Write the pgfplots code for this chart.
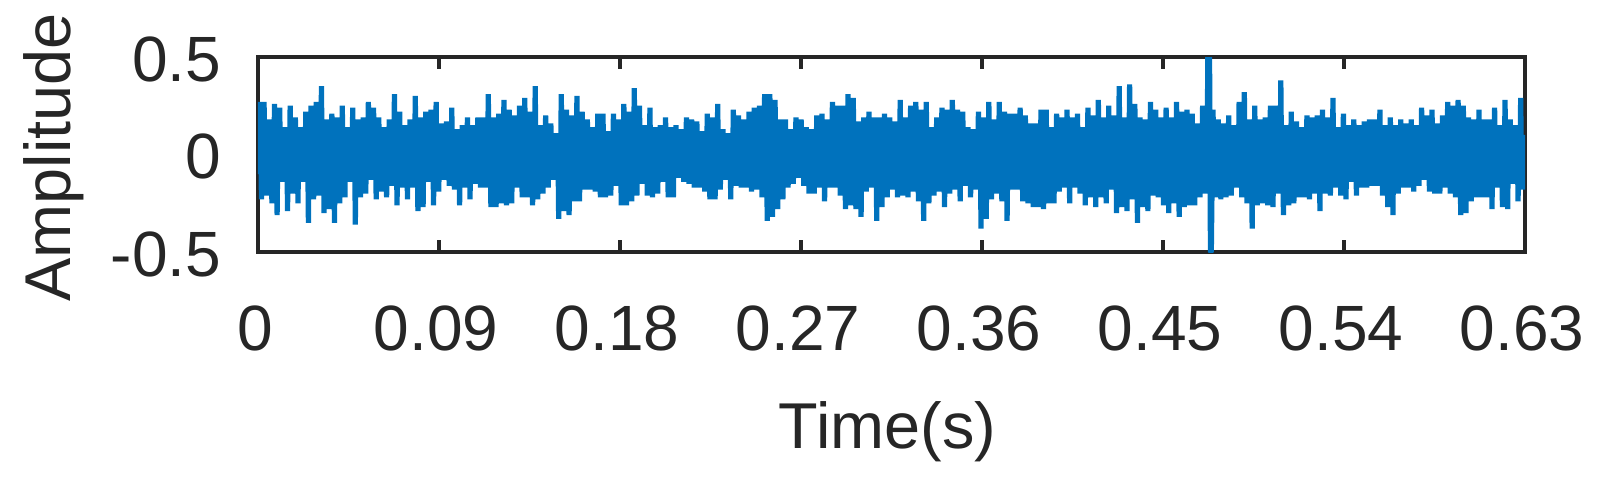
\documentclass[border=0pt]{standalone}
\usepackage{fontspec}
\setmainfont{Liberation Sans}
\usepackage{pgfplots}
\pgfplotsset{compat=1.18}
\definecolor{axisgray}{RGB}{38,38,38}
\definecolor{matblue}{RGB}{0,114,189}
\begin{document}
\begin{tikzpicture}
\begin{axis}[
  scale only axis,
  width=316.75pt, height=48.75pt,
  xmin=0, xmax=0.63, ymin=-0.5, ymax=0.5,
  xtick={0,0.09,0.18,0.27,0.36,0.45,0.54,0.63},
  xticklabels={0,0.09,0.18,0.27,0.36,0.45,0.54,0.63},
  ytick={-0.5,0,0.5},
  yticklabels={-0.5,0,0.5},
  tick align=inside,
  tick pos=both,
  major tick length=3pt,
  axis line style={axisgray, line width=1pt},
  every tick/.style={axisgray, line width=1pt},
  tick label style={font=\fontsize{16}{19}\selectfont, text=axisgray, inner sep=0pt},
  xticklabel style={anchor=north, yshift=-13.25pt, xshift=-0.75pt},
  yticklabel style={anchor=east, xshift=-9pt, yshift=-0.5pt},
  every axis x label/.style={at={(axis description cs:0.4968,0)}, anchor=base,
    yshift=-49pt, inner sep=0pt, text=axisgray, font=\fontsize{16.2}{19}\selectfont},
  every axis y label/.style={at={(axis description cs:-0.14838,0.4846)}, anchor=base,
    rotate=90, inner sep=0pt, text=axisgray, font=\fontsize{16.2}{19}\selectfont},
  xlabel={Time(s)},
  ylabel={Amplitude},
]
% one row per sample, spike top / core / spike bottom
\addplot[matblue, line width=1.3pt, line join=bevel]
  table[header=false, row sep=\\, x expr=\coordindex*0.00043210, y index=0] {
0\\
0.27\\-0.10\\0.11\\-0.23\\0.10\\-0.09\\
0.27\\-0.11\\0.09\\-0.21\\0.11\\-0.10\\
0.18\\-0.09\\0.10\\-0.25\\0.09\\-0.11\\
0.26\\-0.10\\0.11\\-0.31\\0.10\\-0.09\\
0.24\\-0.11\\0.09\\-0.14\\0.11\\-0.10\\
0.14\\-0.09\\0.10\\-0.29\\0.09\\-0.11\\
0.25\\-0.10\\0.11\\-0.20\\0.10\\-0.09\\
0.19\\-0.11\\0.09\\-0.25\\0.11\\-0.10\\
0.14\\-0.09\\0.10\\-0.14\\0.09\\-0.11\\
0.22\\-0.10\\0.11\\-0.35\\0.10\\-0.09\\
0.25\\-0.11\\0.09\\-0.23\\0.11\\-0.10\\
0.27\\-0.09\\0.10\\-0.21\\0.09\\-0.11\\
0.35\\-0.10\\0.11\\-0.30\\0.10\\-0.09\\
0.18\\-0.11\\0.09\\-0.28\\0.11\\-0.10\\
0.21\\-0.09\\0.10\\-0.35\\0.09\\-0.11\\
0.19\\-0.10\\0.11\\-0.25\\0.10\\-0.09\\
0.25\\-0.11\\0.09\\-0.22\\0.11\\-0.10\\
0.14\\-0.09\\0.10\\-0.14\\0.09\\-0.11\\
0.24\\-0.10\\0.11\\-0.36\\0.10\\-0.09\\
0.18\\-0.11\\0.09\\-0.22\\0.11\\-0.10\\
0.19\\-0.09\\0.10\\-0.20\\0.09\\-0.11\\
0.27\\-0.10\\0.11\\-0.13\\0.10\\-0.09\\
0.24\\-0.11\\0.09\\-0.23\\0.11\\-0.10\\
0.19\\-0.09\\0.10\\-0.19\\0.09\\-0.11\\
0.14\\-0.10\\0.11\\-0.22\\0.10\\-0.09\\
0.18\\-0.11\\0.09\\-0.16\\0.11\\-0.10\\
0.31\\-0.09\\0.10\\-0.26\\0.09\\-0.11\\
0.22\\-0.10\\0.11\\-0.17\\0.10\\-0.09\\
0.15\\-0.11\\0.09\\-0.23\\0.11\\-0.10\\
0.18\\-0.09\\0.10\\-0.17\\0.09\\-0.11\\
0.30\\-0.10\\0.11\\-0.29\\0.10\\-0.09\\
0.19\\-0.11\\0.09\\-0.27\\0.11\\-0.10\\
0.22\\-0.09\\0.10\\-0.14\\0.09\\-0.11\\
0.23\\-0.10\\0.11\\-0.26\\0.10\\-0.09\\
0.27\\-0.11\\0.09\\-0.19\\0.11\\-0.10\\
0.16\\-0.09\\0.10\\-0.13\\0.09\\-0.11\\
0.17\\-0.10\\0.11\\-0.16\\0.10\\-0.09\\
0.24\\-0.11\\0.09\\-0.18\\0.11\\-0.10\\
0.13\\-0.09\\0.10\\-0.26\\0.09\\-0.11\\
0.15\\-0.10\\0.11\\-0.17\\0.10\\-0.09\\
0.19\\-0.11\\0.09\\-0.23\\0.11\\-0.10\\
0.15\\-0.09\\0.10\\-0.15\\0.09\\-0.11\\
0.19\\-0.10\\0.11\\-0.17\\0.10\\-0.09\\
0.19\\-0.11\\0.09\\-0.17\\0.11\\-0.10\\
0.31\\-0.09\\0.10\\-0.27\\0.09\\-0.11\\
0.19\\-0.10\\0.11\\-0.27\\0.10\\-0.09\\
0.21\\-0.11\\0.09\\-0.25\\0.11\\-0.10\\
0.28\\-0.09\\0.10\\-0.26\\0.09\\-0.11\\
0.23\\-0.10\\0.11\\-0.25\\0.10\\-0.09\\
0.20\\-0.11\\0.09\\-0.17\\0.11\\-0.10\\
0.25\\-0.09\\0.10\\-0.22\\0.09\\-0.11\\
0.29\\-0.10\\0.11\\-0.22\\0.10\\-0.09\\
0.22\\-0.11\\0.09\\-0.26\\0.11\\-0.10\\
0.35\\-0.09\\0.10\\-0.23\\0.09\\-0.11\\
0.15\\-0.10\\0.11\\-0.20\\0.10\\-0.09\\
0.20\\-0.11\\0.09\\-0.17\\0.11\\-0.10\\
0.16\\-0.09\\0.10\\-0.13\\0.09\\-0.11\\
0.11\\-0.10\\0.11\\-0.33\\0.10\\-0.09\\
0.31\\-0.11\\0.09\\-0.29\\0.11\\-0.10\\
0.23\\-0.09\\0.10\\-0.31\\0.09\\-0.11\\
0.20\\-0.10\\0.11\\-0.24\\0.10\\-0.09\\
0.30\\-0.11\\0.09\\-0.24\\0.11\\-0.10\\
0.22\\-0.09\\0.10\\-0.18\\0.09\\-0.11\\
0.18\\-0.10\\0.11\\-0.18\\0.10\\-0.09\\
0.14\\-0.11\\0.09\\-0.19\\0.11\\-0.10\\
0.21\\-0.09\\0.10\\-0.22\\0.09\\-0.11\\
0.21\\-0.10\\0.11\\-0.22\\0.10\\-0.09\\
0.12\\-0.11\\0.09\\-0.21\\0.11\\-0.10\\
0.21\\-0.09\\0.10\\-0.16\\0.09\\-0.11\\
0.18\\-0.10\\0.11\\-0.26\\0.10\\-0.09\\
0.26\\-0.11\\0.09\\-0.26\\0.11\\-0.10\\
0.22\\-0.09\\0.10\\-0.24\\0.09\\-0.11\\
0.34\\-0.10\\0.11\\-0.21\\0.10\\-0.09\\
0.25\\-0.11\\0.09\\-0.15\\0.11\\-0.10\\
0.15\\-0.09\\0.10\\-0.21\\0.09\\-0.11\\
0.24\\-0.10\\0.11\\-0.22\\0.10\\-0.09\\
0.14\\-0.11\\0.09\\-0.20\\0.11\\-0.10\\
0.15\\-0.09\\0.10\\-0.14\\0.09\\-0.11\\
0.19\\-0.10\\0.11\\-0.22\\0.10\\-0.09\\
0.14\\-0.11\\0.09\\-0.22\\0.11\\-0.10\\
0.15\\-0.09\\0.10\\-0.12\\0.09\\-0.11\\
0.13\\-0.10\\0.11\\-0.14\\0.10\\-0.09\\
0.19\\-0.11\\0.09\\-0.15\\0.11\\-0.10\\
0.18\\-0.09\\0.10\\-0.17\\0.09\\-0.11\\
0.17\\-0.10\\0.11\\-0.17\\0.10\\-0.09\\
0.12\\-0.11\\0.09\\-0.19\\0.11\\-0.10\\
0.21\\-0.09\\0.10\\-0.23\\0.09\\-0.11\\
0.19\\-0.10\\0.11\\-0.23\\0.10\\-0.09\\
0.26\\-0.11\\0.09\\-0.18\\0.11\\-0.10\\
0.13\\-0.09\\0.10\\-0.13\\0.09\\-0.11\\
0.11\\-0.10\\0.11\\-0.23\\0.10\\-0.09\\
0.23\\-0.11\\0.09\\-0.16\\0.11\\-0.10\\
0.20\\-0.09\\0.10\\-0.17\\0.09\\-0.11\\
0.18\\-0.10\\0.11\\-0.17\\0.10\\-0.09\\
0.22\\-0.11\\0.09\\-0.19\\0.11\\-0.10\\
0.24\\-0.09\\0.10\\-0.18\\0.09\\-0.11\\
0.25\\-0.10\\0.11\\-0.22\\0.10\\-0.09\\
0.31\\-0.11\\0.09\\-0.34\\0.11\\-0.10\\
0.31\\-0.09\\0.10\\-0.32\\0.09\\-0.11\\
0.28\\-0.10\\0.11\\-0.28\\0.10\\-0.09\\
0.18\\-0.11\\0.09\\-0.23\\0.11\\-0.10\\
0.18\\-0.09\\0.10\\-0.17\\0.09\\-0.11\\
0.13\\-0.10\\0.11\\-0.15\\0.10\\-0.09\\
0.19\\-0.11\\0.09\\-0.12\\0.11\\-0.10\\
0.18\\-0.09\\0.10\\-0.16\\0.09\\-0.11\\
0.14\\-0.10\\0.11\\-0.20\\0.10\\-0.09\\
0.13\\-0.11\\0.09\\-0.20\\0.11\\-0.10\\
0.20\\-0.09\\0.10\\-0.17\\0.09\\-0.11\\
0.21\\-0.10\\0.11\\-0.24\\0.10\\-0.09\\
0.18\\-0.11\\0.09\\-0.17\\0.11\\-0.10\\
0.27\\-0.09\\0.10\\-0.17\\0.09\\-0.11\\
0.25\\-0.10\\0.11\\-0.21\\0.10\\-0.09\\
0.25\\-0.11\\0.09\\-0.28\\0.11\\-0.10\\
0.31\\-0.09\\0.10\\-0.26\\0.09\\-0.11\\
0.29\\-0.10\\0.11\\-0.28\\0.10\\-0.09\\
0.17\\-0.11\\0.09\\-0.32\\0.11\\-0.10\\
0.19\\-0.09\\0.10\\-0.19\\0.09\\-0.11\\
0.22\\-0.10\\0.11\\-0.17\\0.10\\-0.09\\
0.19\\-0.11\\0.09\\-0.34\\0.11\\-0.10\\
0.19\\-0.09\\0.10\\-0.27\\0.09\\-0.11\\
0.21\\-0.10\\0.11\\-0.22\\0.10\\-0.09\\
0.19\\-0.11\\0.09\\-0.18\\0.11\\-0.10\\
0.17\\-0.09\\0.10\\-0.22\\0.09\\-0.11\\
0.28\\-0.10\\0.11\\-0.21\\0.10\\-0.09\\
0.19\\-0.11\\0.09\\-0.22\\0.11\\-0.10\\
0.25\\-0.09\\0.10\\-0.19\\0.09\\-0.11\\
0.27\\-0.10\\0.11\\-0.24\\0.10\\-0.09\\
0.23\\-0.11\\0.09\\-0.34\\0.11\\-0.10\\
0.27\\-0.09\\0.10\\-0.25\\0.09\\-0.11\\
0.14\\-0.10\\0.11\\-0.21\\0.10\\-0.09\\
0.19\\-0.11\\0.09\\-0.19\\0.11\\-0.10\\
0.24\\-0.09\\0.10\\-0.27\\0.09\\-0.11\\
0.23\\-0.10\\0.11\\-0.20\\0.10\\-0.09\\
0.28\\-0.11\\0.09\\-0.18\\0.11\\-0.10\\
0.23\\-0.09\\0.10\\-0.24\\0.09\\-0.11\\
0.22\\-0.10\\0.11\\-0.16\\0.10\\-0.09\\
0.14\\-0.11\\0.09\\-0.22\\0.11\\-0.10\\
0.13\\-0.09\\0.10\\-0.18\\0.09\\-0.11\\
0.22\\-0.10\\0.11\\-0.38\\0.10\\-0.09\\
0.19\\-0.11\\0.09\\-0.33\\0.11\\-0.10\\
0.27\\-0.09\\0.10\\-0.23\\0.09\\-0.11\\
0.18\\-0.10\\0.11\\-0.20\\0.10\\-0.09\\
0.27\\-0.11\\0.09\\-0.24\\0.11\\-0.10\\
0.22\\-0.09\\0.10\\-0.34\\0.09\\-0.11\\
0.21\\-0.10\\0.11\\-0.18\\0.10\\-0.09\\
0.21\\-0.11\\0.09\\-0.18\\0.11\\-0.10\\
0.24\\-0.09\\0.10\\-0.24\\0.09\\-0.11\\
0.20\\-0.10\\0.11\\-0.25\\0.10\\-0.09\\
0.16\\-0.11\\0.09\\-0.27\\0.11\\-0.10\\
0.16\\-0.09\\0.10\\-0.27\\0.09\\-0.11\\
0.23\\-0.10\\0.11\\-0.28\\0.10\\-0.09\\
0.23\\-0.11\\0.09\\-0.25\\0.11\\-0.10\\
0.14\\-0.09\\0.10\\-0.25\\0.09\\-0.11\\
0.21\\-0.10\\0.11\\-0.19\\0.10\\-0.09\\
0.19\\-0.11\\0.09\\-0.17\\0.11\\-0.10\\
0.23\\-0.09\\0.10\\-0.25\\0.09\\-0.11\\
0.19\\-0.10\\0.11\\-0.17\\0.10\\-0.09\\
0.21\\-0.11\\0.09\\-0.20\\0.11\\-0.10\\
0.14\\-0.09\\0.10\\-0.26\\0.09\\-0.11\\
0.24\\-0.10\\0.11\\-0.22\\0.10\\-0.09\\
0.20\\-0.11\\0.09\\-0.27\\0.11\\-0.10\\
0.28\\-0.09\\0.10\\-0.22\\0.09\\-0.11\\
0.19\\-0.10\\0.11\\-0.25\\0.10\\-0.09\\
0.25\\-0.11\\0.09\\-0.18\\0.11\\-0.10\\
0.20\\-0.09\\0.10\\-0.30\\0.09\\-0.11\\
0.35\\-0.10\\0.11\\-0.27\\0.10\\-0.09\\
0.19\\-0.11\\0.09\\-0.29\\0.11\\-0.10\\
0.36\\-0.09\\0.10\\-0.23\\0.09\\-0.11\\
0.26\\-0.10\\0.11\\-0.35\\0.10\\-0.09\\
0.19\\-0.11\\0.09\\-0.27\\0.11\\-0.10\\
0.18\\-0.09\\0.10\\-0.29\\0.09\\-0.11\\
0.27\\-0.10\\0.11\\-0.21\\0.10\\-0.09\\
0.23\\-0.11\\0.09\\-0.22\\0.11\\-0.10\\
0.19\\-0.09\\0.10\\-0.26\\0.09\\-0.11\\
0.24\\-0.10\\0.11\\-0.30\\0.10\\-0.09\\
0.19\\-0.11\\0.09\\-0.25\\0.11\\-0.10\\
0.27\\-0.09\\0.10\\-0.32\\0.09\\-0.11\\
0.22\\-0.10\\0.11\\-0.27\\0.10\\-0.09\\
0.23\\-0.11\\0.09\\-0.26\\0.11\\-0.10\\
0.21\\-0.09\\0.10\\-0.26\\0.09\\-0.11\\
0.16\\-0.10\\0.11\\-0.22\\0.10\\-0.09\\
0.25\\-0.11\\0.09\\-0.20\\0.11\\-0.10\\
0.50\\-0.09\\0.50\\-0.50\\-0.50\\-0.11\\
0.23\\-0.10\\0.11\\-0.22\\0.10\\-0.09\\
0.18\\-0.11\\0.09\\-0.23\\0.11\\-0.10\\
0.16\\-0.09\\0.10\\-0.22\\0.09\\-0.11\\
0.20\\-0.10\\0.11\\-0.21\\0.10\\-0.09\\
0.15\\-0.11\\0.09\\-0.17\\0.11\\-0.10\\
0.27\\-0.09\\0.10\\-0.22\\0.09\\-0.11\\
0.32\\-0.10\\0.11\\-0.25\\0.10\\-0.09\\
0.18\\-0.11\\0.09\\-0.38\\0.11\\-0.10\\
0.25\\-0.09\\0.10\\-0.26\\0.09\\-0.11\\
0.18\\-0.10\\0.11\\-0.25\\0.10\\-0.09\\
0.19\\-0.11\\0.09\\-0.26\\0.11\\-0.10\\
0.25\\-0.09\\0.10\\-0.27\\0.09\\-0.11\\
0.25\\-0.10\\0.11\\-0.20\\0.10\\-0.09\\
0.38\\-0.11\\0.09\\-0.31\\0.11\\-0.10\\
0.15\\-0.09\\0.10\\-0.26\\0.09\\-0.11\\
0.22\\-0.10\\0.11\\-0.25\\0.10\\-0.09\\
0.17\\-0.11\\0.09\\-0.22\\0.11\\-0.10\\
0.14\\-0.09\\0.10\\-0.22\\0.09\\-0.11\\
0.20\\-0.10\\0.11\\-0.23\\0.10\\-0.09\\
0.19\\-0.11\\0.09\\-0.20\\0.11\\-0.10\\
0.20\\-0.09\\0.10\\-0.29\\0.09\\-0.11\\
0.23\\-0.10\\0.11\\-0.20\\0.10\\-0.09\\
0.19\\-0.11\\0.09\\-0.21\\0.11\\-0.10\\
0.29\\-0.09\\0.10\\-0.17\\0.09\\-0.11\\
0.14\\-0.10\\0.11\\-0.21\\0.10\\-0.09\\
0.21\\-0.11\\0.09\\-0.23\\0.11\\-0.10\\
0.15\\-0.09\\0.10\\-0.14\\0.09\\-0.11\\
0.18\\-0.10\\0.11\\-0.21\\0.10\\-0.09\\
0.15\\-0.11\\0.09\\-0.17\\0.11\\-0.10\\
0.17\\-0.09\\0.10\\-0.17\\0.09\\-0.11\\
0.18\\-0.10\\0.11\\-0.16\\0.10\\-0.09\\
0.18\\-0.11\\0.09\\-0.16\\0.11\\-0.10\\
0.23\\-0.09\\0.10\\-0.21\\0.09\\-0.11\\
0.15\\-0.10\\0.11\\-0.27\\0.10\\-0.09\\
0.19\\-0.11\\0.09\\-0.31\\0.11\\-0.10\\
0.15\\-0.09\\0.10\\-0.20\\0.09\\-0.11\\
0.18\\-0.10\\0.11\\-0.17\\0.10\\-0.09\\
0.16\\-0.11\\0.09\\-0.17\\0.11\\-0.10\\
0.18\\-0.09\\0.10\\-0.19\\0.09\\-0.11\\
0.15\\-0.10\\0.11\\-0.16\\0.10\\-0.09\\
0.24\\-0.11\\0.09\\-0.13\\0.11\\-0.10\\
0.20\\-0.09\\0.10\\-0.19\\0.09\\-0.11\\
0.23\\-0.10\\0.11\\-0.20\\0.10\\-0.09\\
0.16\\-0.11\\0.09\\-0.20\\0.11\\-0.10\\
0.20\\-0.09\\0.10\\-0.17\\0.09\\-0.11\\
0.27\\-0.10\\0.11\\-0.20\\0.10\\-0.09\\
0.25\\-0.11\\0.09\\-0.22\\0.11\\-0.10\\
0.28\\-0.09\\0.10\\-0.31\\0.09\\-0.11\\
0.25\\-0.10\\0.11\\-0.30\\0.10\\-0.09\\
0.19\\-0.11\\0.09\\-0.24\\0.11\\-0.10\\
0.18\\-0.09\\0.10\\-0.22\\0.09\\-0.11\\
0.23\\-0.10\\0.11\\-0.22\\0.10\\-0.09\\
0.18\\-0.11\\0.09\\-0.22\\0.11\\-0.10\\
0.18\\-0.09\\0.10\\-0.28\\0.09\\-0.11\\
0.24\\-0.10\\0.11\\-0.17\\0.10\\-0.09\\
0.15\\-0.11\\0.09\\-0.27\\0.11\\-0.10\\
0.28\\-0.09\\0.10\\-0.28\\0.09\\-0.11\\
0.18\\-0.10\\0.11\\-0.15\\0.10\\-0.09\\
0.15\\-0.11\\0.09\\-0.24\\0.11\\-0.10\\
0.29\\-0.09\\0.10\\-0.18\\0.09\\-0.11\\
};
\end{axis}
\pgfresetboundingbox
\path (-64.5pt,-56pt) rectangle (336pt,63pt);
\end{tikzpicture}
\end{document}
